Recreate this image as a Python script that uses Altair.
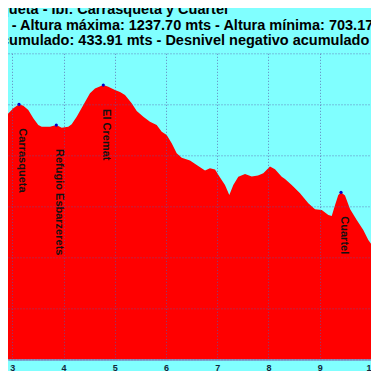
import altair as alt
import pandas as pd

TITLE_LINES = [
    "queta - Ibi: Carrasqueta y Cuartel",
    "- Altura máxima: 1237.70 mts - Altura mínima: 703.17 mts",
    "cumulado: 433.91 mts - Desnivel negativo acumulado",
]

KM = [2.760, 2.891, 3.020, 3.131, 3.215, 3.312, 3.410, 3.507, 3.574, 3.736,
      3.859, 3.964, 4.093, 4.159, 4.257, 4.386, 4.516, 4.614, 4.776, 4.874,
      5.004, 5.102, 5.199, 5.330, 5.428, 5.557, 5.687, 5.818, 5.916, 6.013,
      6.111, 6.208, 6.306, 6.468, 6.599, 6.761, 6.858, 6.956, 7.054, 7.151,
      7.235, 7.313, 7.411, 7.542, 7.672, 7.795, 7.899, 8.029, 8.127, 8.258,
      8.322, 8.453, 8.615, 8.777, 8.908, 9.039, 9.168, 9.234, 9.299, 9.362,
      9.415, 9.493, 9.591, 9.722, 9.850, 9.948, 10.046, 10.157, 10.250]
ELEV = [1172.6, 1179.0, 1192.2, 1200.0, 1197.3, 1188.8, 1172.6, 1159.4, 1156.1, 1156.1,
        1159.4, 1154.2, 1156.1, 1160.8, 1175.7, 1198.6, 1221.5, 1231.0, 1237.7, 1234.5,
        1228.0, 1224.1, 1218.2, 1202.0, 1186.9, 1175.7, 1165.9, 1159.4, 1146.3, 1139.9,
        1123.6, 1104.0, 1095.4, 1089.9, 1081.1, 1070.3, 1074.6, 1072.3, 1056.6, 1041.9,
        1022.3, 1041.9, 1058.2, 1063.5, 1058.6, 1060.5, 1064.8, 1078.1, 1072.7, 1058.2,
        1053.7, 1041.9, 1025.6, 1006.1, 994.3, 992.9, 983.1, 981.2, 1002.7, 1022.3,
        1027.6, 1021.3, 994.9, 973.3, 953.8, 934.2, 920.5, 912.6, 905.0]

PEAK_NAMES = ["Carrasqueta", "Refugio Esbarzerets", "El Cremat", "Cuartel"]
PEAK_KM = [3.131, 3.859, 4.776, 9.415]
PEAK_ELEV = [1200.0, 1159.4, 1237.7, 1027.6]

X_TICKS = [3, 4, 5, 6, 7, 8, 9, 10]
Y_TICKS = [700, 800, 900, 1000, 1100, 1200, 1300]

FONT = "Liberation Sans"
BG = "#80FFFF"
GRID = "#5a5aa8"

SVG_W = 363
SVG_H = 363


def sv(screen):
    """window pixel -> svg pixel (page margin is 8px)"""
    return screen - 8


PLOT_TOP = sv(53.3)
PLOT_BOTTOM = sv(359.5)
X3 = sv(12.3)
PX_PER_KM = 51.24
PLOT_W = SVG_W + 2          # plot runs a little past the svg edge (clipped)
X_MIN = 3 - X3 / PX_PER_KM
X_MAX = 3 + (PLOT_W - X3) / PX_PER_KM

profile = pd.DataFrame({"km": KM, "elev": ELEV})
peaks = pd.DataFrame({"name": PEAK_NAMES, "km": PEAK_KM, "elev": PEAK_ELEV})

xscale = alt.Scale(domain=[X_MIN, X_MAX], nice=False, zero=False)
yscale = alt.Scale(domain=[700, 1300], nice=False, zero=False)

xaxis = alt.Axis(values=X_TICKS, format="d", title=None, grid=True,
                 gridColor=GRID, gridDash=[1, 2], gridOpacity=0.75, gridWidth=1,
                 ticks=False, domain=True, domainColor="#7a5aa8", domainWidth=1,
                 labelFont=FONT, labelFontWeight="bold", labelFontSize=9,
                 labelColor="#12263a", labelPadding=3.5, labelBound=False,
                 labelOverlap=False, labelFlush=False, zindex=1)
yaxis = alt.Axis(values=Y_TICKS, title=None, grid=True,
                 gridColor=GRID, gridDash=[1, 2], gridOpacity=0.75, gridWidth=1,
                 ticks=False, domain=False, labels=False, zindex=1)

area = alt.Chart(profile).mark_area(color="#FF0000", clip=True, interpolate="linear").encode(
    x=alt.X("km:Q", scale=xscale, axis=xaxis),
    y=alt.Y("elev:Q", scale=yscale, axis=yaxis),
    y2=alt.datum(700),
)

pts = alt.Chart(peaks).mark_circle(color="#0000cc", size=10, opacity=1).encode(
    x=alt.X("km:Q", scale=xscale),
    y=alt.Y("elev:Q", scale=yscale),
)

labels = alt.Chart(peaks).mark_text(
    angle=90, align="left", baseline="middle", dx=24, dy=-3,
    font=FONT, fontWeight="bold", fontSize=11, color="#111111"
).encode(
    x=alt.X("km:Q", scale=xscale),
    y=alt.Y("elev:Q", scale=yscale),
    text="name:N",
)

# title lines: (left window x, baseline window y)
title_pos = [(0.0, 14.0), (11.7, 29.7), (1.0, 45.0)]
titles = []
for line, (px, py) in zip(TITLE_LINES, title_pos):
    titles.append(
        alt.Chart(pd.DataFrame({"t": [line]})).mark_text(
            align="left", baseline="alphabetic", font=FONT, fontWeight="bold",
            fontSize=14.5, color="#000000"
        ).encode(x=alt.value(sv(px)), y=alt.value(sv(py) - PLOT_TOP), text="t:N")
    )

chart = alt.layer(area, pts, labels, *titles).properties(
    width=PLOT_W, height=PLOT_BOTTOM - PLOT_TOP,
    padding={"left": 0, "top": PLOT_TOP, "right": SVG_W - PLOT_W, "bottom": SVG_H - PLOT_BOTTOM},
    autosize=alt.AutoSizeParams(type="none"),
    background=BG,
).configure_view(fill=BG, stroke=None)

chart.save("out.html", embed_options={"renderer": "svg", "actions": False})
